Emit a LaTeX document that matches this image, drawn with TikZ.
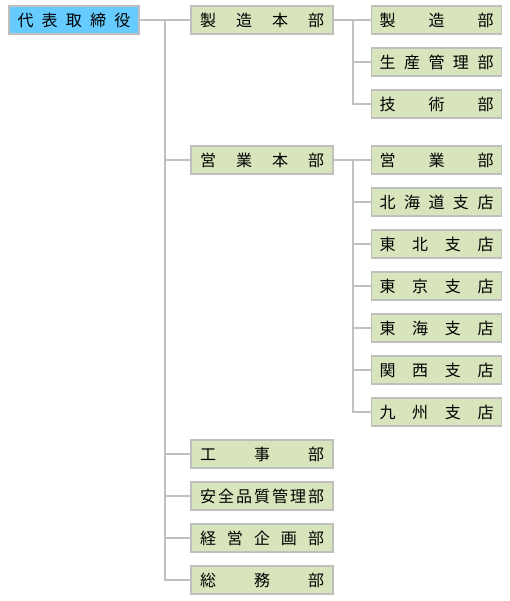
\documentclass[tikz,border=0pt]{standalone}
\usepackage{fontspec}
\setmainfont{Noto Sans CJK JP}
\definecolor{rootblue}{HTML}{66CCFF}
\definecolor{deptgreen}{HTML}{D8E4BC}
\definecolor{boxgray}{HTML}{BFBFBF}
\definecolor{linegray}{HTML}{C0C0C0}
\newcommand{\spread}[2]{\makebox[#1][s]{#2}}

\begin{document}
\begin{tikzpicture}[x=1pt,y=1pt]
            \tikzstyle{every node}+=[inner sep=0pt,font=\fontsize{16}{16}\selectfont]
            \tikzstyle{topbox}=[draw=boxgray,line width=1.2pt,fill=rootblue,minimum width=130pt,minimum height=28pt]
            \tikzstyle{deptbox}=[draw=boxgray,line width=1.2pt,fill=deptgreen,minimum width=142pt,minimum height=28pt]
            \tikzstyle{subbox}=[draw=boxgray,line width=1.2pt,fill=deptgreen,minimum width=130pt,minimum height=28pt]
            \tikzstyle{link}=[draw=linegray,line width=2pt]
            \useasboundingbox (0,0) rectangle (510,-601);
            % top
            \node [topbox] (ceo) at (74,-20) {\spread{113pt}{代\hfill 表\hfill 取\hfill 締\hfill 役}};
            % head offices and departments
            \node [deptbox] (mfg) at (262,-20) {\spread{124pt}{製\hfill 造\hfill 本\hfill 部}};
            \node [deptbox] (sales) at (262,-160) {\spread{124pt}{営\hfill 業\hfill 本\hfill 部}};
            \node [deptbox] (works) at (262,-454) {\spread{124pt}{工\hfill 事\hfill 部}};
            \node [deptbox] (safety) at (262,-496) {\spread{124pt}{安\hfill 全\hfill 品\hfill 質\hfill 管\hfill 理\hfill 部}};
            \node [deptbox] (plan) at (262,-538) {\spread{124pt}{経\hfill 営\hfill 企\hfill 画\hfill 部}};
            \node [deptbox] (admin) at (262,-580) {\spread{124pt}{総\hfill 務\hfill 部}};
            % under mfg
            \node [subbox] (mfgdep) at (436.5,-20) {\spread{114pt}{製\hfill 造\hfill 部}};
            \node [subbox] (prodctl) at (436.5,-62) {\spread{114pt}{生\hfill 産\hfill 管\hfill 理\hfill 部}};
            \node [subbox] (tech) at (436.5,-104) {\spread{114pt}{技\hfill 術\hfill 部}};
            % under sales
            \node [subbox] (salesdep) at (436.5,-160) {\spread{114pt}{営\hfill 業\hfill 部}};
            \node [subbox] (hokkaido) at (436.5,-202) {\spread{114pt}{北\hfill 海\hfill 道\hfill 支\hfill 店}};
            \node [subbox] (tohoku) at (436.5,-244) {\spread{114pt}{東\hfill 北\hfill 支\hfill 店}};
            \node [subbox] (tokyo) at (436.5,-286) {\spread{114pt}{東\hfill 京\hfill 支\hfill 店}};
            \node [subbox] (tokai) at (436.5,-328) {\spread{114pt}{東\hfill 海\hfill 支\hfill 店}};
            \node [subbox] (kansai) at (436.5,-370) {\spread{114pt}{関\hfill 西\hfill 支\hfill 店}};
            \node [subbox] (kyushu) at (436.5,-412) {\spread{114pt}{九\hfill 州\hfill 支\hfill 店}};
            % connectors
            \coordinate (trunk) at (165,-20);
            \coordinate (mfgfork) at (353,-20);
            \coordinate (salesfork) at (353,-160);
            \draw [link] (ceo.east) -- (mfg.west);
            \draw [link] (trunk) |- (sales.west);
            \draw [link] (trunk) |- (works.west);
            \draw [link] (trunk) |- (safety.west);
            \draw [link] (trunk) |- (plan.west);
            \draw [link] (trunk) |- (admin.west);
            \draw [link] (mfg.east) -- (mfgdep.west);
            \draw [link] (mfgfork) |- (prodctl.west);
            \draw [link] (mfgfork) |- (tech.west);
            \draw [link] (sales.east) -- (salesdep.west);
            \draw [link] (salesfork) |- (hokkaido.west);
            \draw [link] (salesfork) |- (tohoku.west);
            \draw [link] (salesfork) |- (tokyo.west);
            \draw [link] (salesfork) |- (tokai.west);
            \draw [link] (salesfork) |- (kansai.west);
            \draw [link] (salesfork) |- (kyushu.west);
        \end{tikzpicture}
\end{document}
